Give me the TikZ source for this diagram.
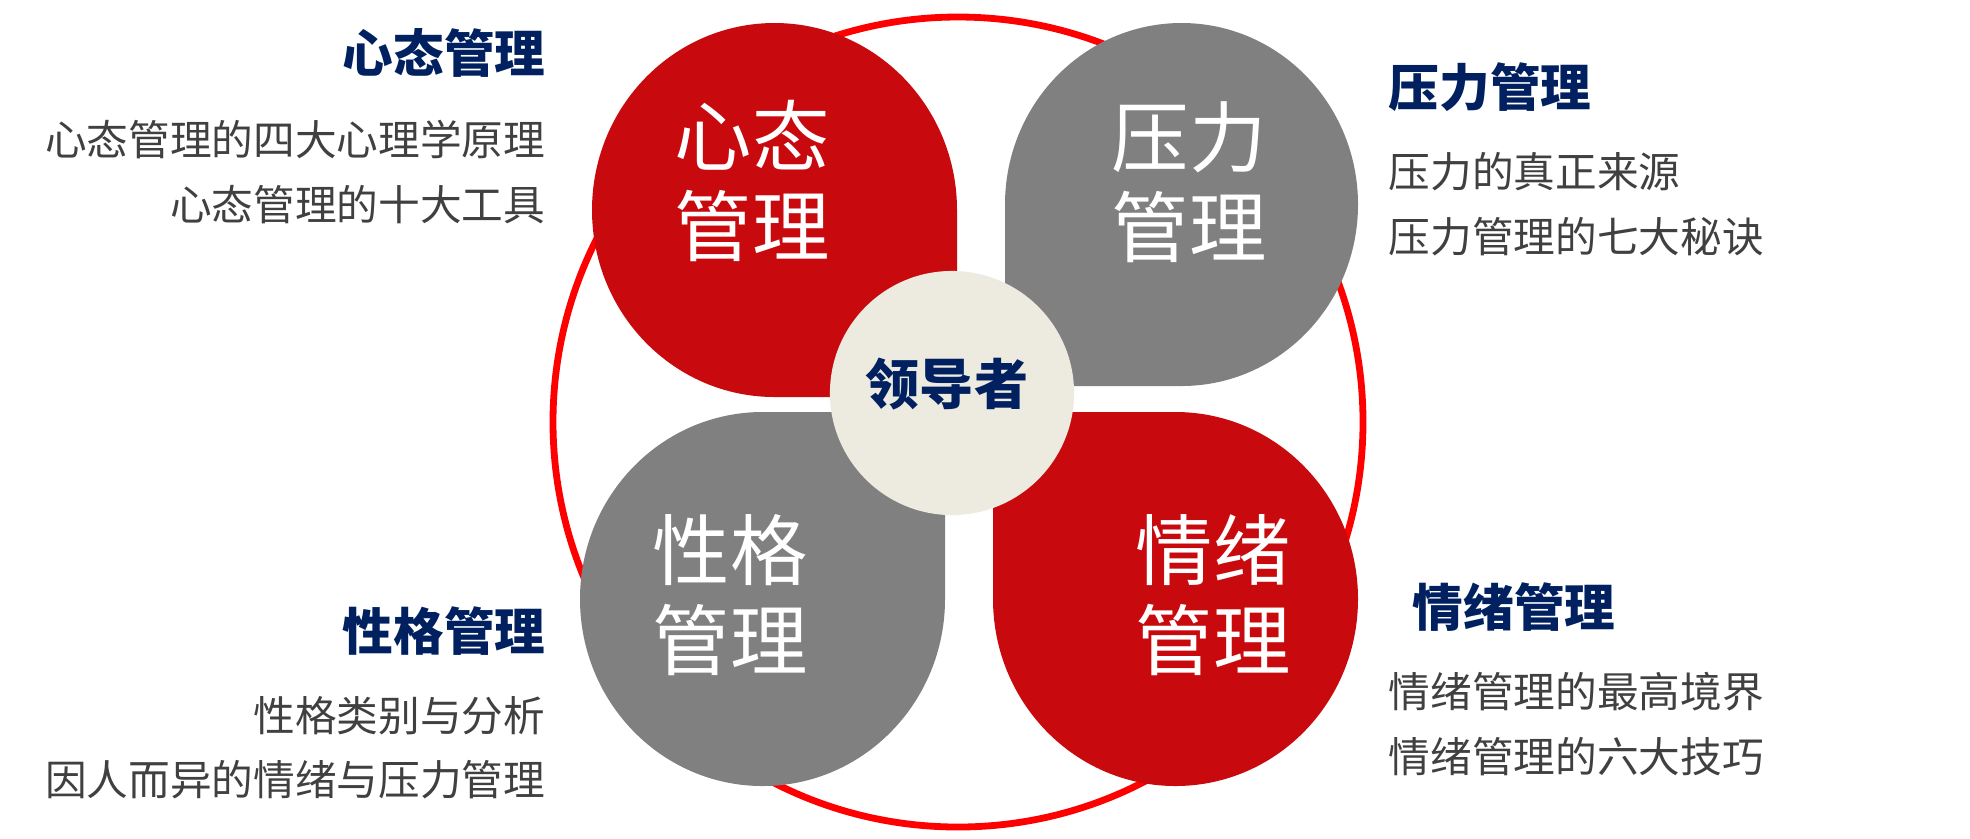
\documentclass[tikz,border=0pt]{standalone}
\usepackage{fontspec}
\setmainfont{Noto Sans CJK SC}
\usepackage{xcolor}
\usepackage{tikz}

\definecolor{petalred}{RGB}{200,10,14}
\definecolor{petalgray}{RGB}{128,128,128}
\definecolor{ringred}{RGB}{255,0,0}
\definecolor{hubfill}{RGB}{237,235,224}
\definecolor{navy}{RGB}{0,32,96}
\definecolor{bodygray}{RGB}{64,64,64}

\begin{document}
\begin{tikzpicture}[
    x=0.01cm, y=-0.01cm,
    every node/.style={inner sep=0pt},
    petaltext/.style={text=white, align=center, font=\fontsize{22}{25.6}\selectfont},
    head/.style={text=navy, font=\fontsize{14.4}{17}\selectfont\bfseries},
    item/.style={text=bodygray, font=\fontsize{11.85}{14}\selectfont},
    hub/.style={circle, fill=hubfill, minimum size=2.44cm},
    hubtext/.style={text=navy, font=\fontsize{15.4}{18}\selectfont\bfseries},
]
    \useasboundingbox (0,0) rectangle (1970,838);

    % outer ring
    \draw[ringred, line width=0.068cm] (958,422) circle [radius=405];

    % four petals (round part + square corner towards the centre)
    \fill[petalred] (774.5,210) ellipse [x radius=182.5, y radius=187] (774.5,397) rectangle (957,210);
    \fill[petalgray] (1181.5,204.5) ellipse [x radius=176.5, y radius=181.5] (1181.5,204.5) rectangle (1005,386);
    \fill[petalgray] (762.5,599) ellipse [x radius=182.5, y radius=187] (762.5,599) rectangle (945,412);
    \fill[petalred] (1175.5,599) ellipse [x radius=182.5, y radius=187] (1175.5,412) rectangle (993,599);

    \node[petaltext] (xintai) at (752,181) {心态\\管理};
    \node[petaltext] (yali) at (1189,182) {压力\\管理};
    \node[petaltext] (xingge) at (730,595) {性格\\管理};
    \node[petaltext] (qingxu) at (1213,595) {情绪\\管理};

    % centre
    \node[hub] (hub) at (952,393) {};
    \node[hubtext] (hubt) at (947,384) {领导者};

    % side texts
    \node[head, anchor=east] (xintaiT) at (546,53) {心态管理};
    \node[item, anchor=east] (xintaiA) at (546,139) {心态管理的四大心理学原理};
    \node[item, anchor=east] (xintaiB) at (546,205) {心态管理的十大工具};

    \node[head, anchor=west] (yaliT) at (1388,87) {压力管理};
    \node[item, anchor=west] (yaliA) at (1388,172) {压力的真正来源};
    \node[item, anchor=west] (yaliB) at (1388,237) {压力管理的七大秘诀};

    \node[head, anchor=east] (xinggeT) at (546,631) {性格管理};
    \node[item, anchor=east] (xinggeA) at (546,716) {性格类别与分析};
    \node[item, anchor=east] (xinggeB) at (546,780) {因人而异的情绪与压力管理};

    \node[head, anchor=west] (qingxuT) at (1412,607) {情绪管理};
    \node[item, anchor=west] (qingxuA) at (1388,692) {情绪管理的最高境界};
    \node[item, anchor=west] (qingxuB) at (1388,757) {情绪管理的六大技巧};
\end{tikzpicture}
\end{document}
